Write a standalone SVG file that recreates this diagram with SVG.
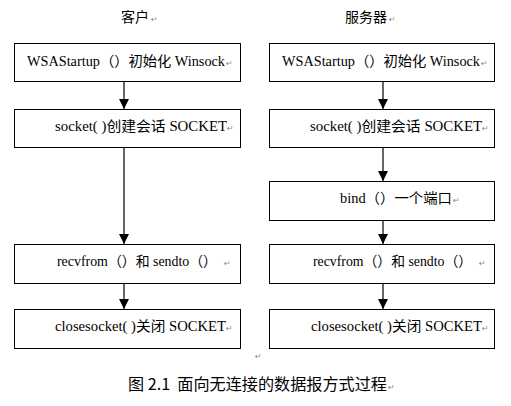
<svg xmlns="http://www.w3.org/2000/svg" width="511" height="406" viewBox="0 0 511 406">
<style>
.box{fill:#fff;stroke:#000;stroke-width:1}
.t{font-family:"Liberation Serif","Times New Roman",serif;font-size:14px;fill:#000}
.k{font-family:"Noto Sans CJK SC",sans-serif}
.h{font-family:"Noto Sans CJK SC",sans-serif;font-size:14px;fill:#000}
.cap{font-family:"Noto Sans CJK SC",sans-serif;font-size:16px;fill:#000}
.pm{font-family:"DejaVu Sans",sans-serif;font-size:8px;fill:#888}
.c{stroke:#000;stroke-width:1.2;fill:none}
</style>
<defs>
<marker id="ah" markerUnits="userSpaceOnUse" markerWidth="10" markerHeight="12" refX="10" refY="5" orient="auto">
<path d="M0,0 L10,5 L0,10 Z" fill="#000"/>
</marker>
</defs>
<rect width="511" height="406" fill="#fff"/>
<g id="title-client"><text class="h" x="121" y="22">客户</text><text class="pm" x="151" y="22">↵</text></g>
<g id="title-server"><text class="h" x="345" y="22">服务器</text><text class="pm" x="389" y="22">↵</text></g>
<g id="connectors">
<line class="c" x1="124" y1="82" x2="124" y2="109" marker-end="url(#ah)"/>
<line class="c" x1="124" y1="148" x2="124" y2="244" marker-end="url(#ah)"/>
<line class="c" x1="124" y1="284" x2="124" y2="309" marker-end="url(#ah)"/>
<line class="c" x1="383" y1="82" x2="383" y2="109" marker-end="url(#ah)"/>
<line class="c" x1="383" y1="148" x2="383" y2="181" marker-end="url(#ah)"/>
<line class="c" x1="383" y1="221" x2="383" y2="244" marker-end="url(#ah)"/>
<line class="c" x1="383" y1="284" x2="383" y2="309" marker-end="url(#ah)"/>
</g>
<g id="c-wsa"><rect class="box" x="14.5" y="43.5" width="226" height="38"/><text class="t" x="27" y="66" textLength="198" lengthAdjust="spacingAndGlyphs">WSAStartup<tspan class="k">（）初始化</tspan> Winsock</text><text class="pm" x="226" y="66">↵</text></g>
<g id="c-socket"><rect class="box" x="14.5" y="109.5" width="226" height="38"/><text class="t" x="55" y="131" textLength="172" lengthAdjust="spacingAndGlyphs">socket( )<tspan class="k">创建会话</tspan> SOCKET</text><text class="pm" x="227" y="131">↵</text></g>
<g id="c-recv"><rect class="box" x="14.5" y="244.5" width="226" height="39"/><text class="t" x="57" y="266" textLength="160" lengthAdjust="spacingAndGlyphs">recvfrom<tspan class="k">（）和</tspan> sendto<tspan class="k">（）</tspan></text><text class="pm" x="224" y="266">↵</text></g>
<g id="c-close"><rect class="box" x="14.5" y="309.5" width="226" height="39"/><text class="t" x="55" y="331" textLength="171" lengthAdjust="spacingAndGlyphs">closesocket( )<tspan class="k">关闭</tspan> SOCKET</text><text class="pm" x="226" y="331">↵</text></g>
<g id="s-wsa"><rect class="box" x="269.5" y="43.5" width="225" height="38"/><text class="t" x="282" y="66" textLength="198" lengthAdjust="spacingAndGlyphs">WSAStartup<tspan class="k">（）初始化</tspan> Winsock</text><text class="pm" x="481" y="66">↵</text></g>
<g id="s-socket"><rect class="box" x="269.5" y="109.5" width="225" height="38"/><text class="t" x="310" y="131" textLength="172" lengthAdjust="spacingAndGlyphs">socket( )<tspan class="k">创建会话</tspan> SOCKET</text><text class="pm" x="482" y="131">↵</text></g>
<g id="s-bind"><rect class="box" x="269.5" y="181.5" width="225" height="39"/><text class="t" x="340" y="203" textLength="112" lengthAdjust="spacingAndGlyphs">bind<tspan class="k">（）一个端口</tspan></text><text class="pm" x="453" y="203">↵</text></g>
<g id="s-recv"><rect class="box" x="269.5" y="244.5" width="225" height="39"/><text class="t" x="313" y="266" textLength="159" lengthAdjust="spacingAndGlyphs">recvfrom<tspan class="k">（）和</tspan> sendto<tspan class="k">（）</tspan></text><text class="pm" x="479" y="266">↵</text></g>
<g id="s-close"><rect class="box" x="269.5" y="309.5" width="225" height="39"/><text class="t" x="311" y="331" textLength="171" lengthAdjust="spacingAndGlyphs">closesocket( )<tspan class="k">关闭</tspan> SOCKET</text><text class="pm" x="482" y="331">↵</text></g>
<text class="pm" x="255" y="359">↵</text>
<g id="caption"><text class="cap" x="128" y="390" textLength="259" lengthAdjust="spacingAndGlyphs" xml:space="preserve">图 2.1  面向无连接的数据报方式过程</text><text class="pm" x="388" y="390">↵</text></g>
</svg>
